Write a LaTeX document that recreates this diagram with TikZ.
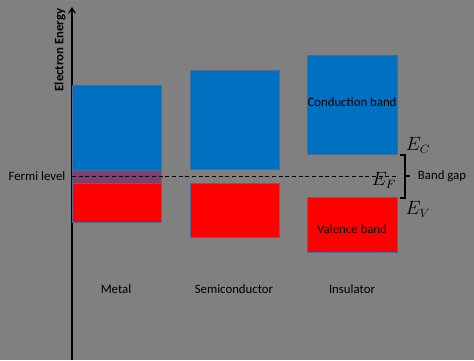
\documentclass[tikz,border=0pt]{standalone}
\usepackage{fontspec}
\setmainfont{Carlito}
\usetikzlibrary{arrows.meta}
\definecolor{bg}{HTML}{808080}
\definecolor{cband}{HTML}{0070C0}
\definecolor{vband}{HTML}{FF0000}
\definecolor{mix}{HTML}{80406F}
\definecolor{edge}{HTML}{4A6A9A}
\begin{document}
\begin{tikzpicture}[x=0.75pt,y=-0.75pt,
  lbl/.style={font=\fontsize{9.6}{11}\selectfont, text=black, inner sep=0pt},
  emath/.style={font=\fontsize{13.5}{15}\selectfont, text=black, inner sep=0pt},
  band/.style={draw=edge, line width=0.6pt}]
\fill[bg] (0,0) rectangle (474,360);
\useasboundingbox (0,0) rectangle (474,360);
% axis
\coordinate (axb) at (72,360);
\coordinate (axt) at (72,7);
\draw[line width=0.8pt, -{Straight Barb[length=4pt,width=5pt]}] (axb) -- (axt);
% metal
\filldraw[band, fill=cband] (72,85) rectangle (161,170);
\filldraw[band, fill=mix] (72,170) rectangle (161,183);
\filldraw[band, fill=vband] (72,183) rectangle (161,222);
% semiconductor
\filldraw[band, fill=cband] (190,70) rectangle (279,169);
\filldraw[band, fill=vband] (190,183) rectangle (279,237);
% insulator
\filldraw[band, fill=cband] (307,55) rectangle (397,154);
\filldraw[band, fill=vband] (307,197) rectangle (397,252);
% fermi level
\coordinate (fa) at (72,176);
\coordinate (fb) at (397,176);
\draw[line width=0.6pt, dash pattern=on 3pt off 2pt] (fa) -- (fb);
% bracket
\draw[line width=0.8pt] (400,155) -- (405,155) -- (405,198) -- (400,198);
\draw[line width=0.8pt] (405,176) -- (410,176);
% labels
\node[lbl, font=\fontsize{9.6}{11}\selectfont\bfseries, rotate=90] (ee) at (60,50) {Electron Energy};
\node[lbl] (fermi) at (37,176) {Fermi level};
\node[lbl] (metal) at (116,289) {Metal};
\node[lbl] (semi) at (234,289) {Semiconductor};
\node[lbl] (ins) at (352,289) {Insulator};
\node[lbl] (cb) at (352,102) {Conduction band};
\node[lbl] (vb) at (352,229) {Valence band};
\node[lbl] (gap) at (442,176) {Band gap};
\node[emath] (ec) at (418,145) {$E_C$};
\node[emath] (ef) at (384,180) {$E_F$};
\node[emath] (ev) at (418,209) {$E_V$};
\end{tikzpicture}
\end{document}
